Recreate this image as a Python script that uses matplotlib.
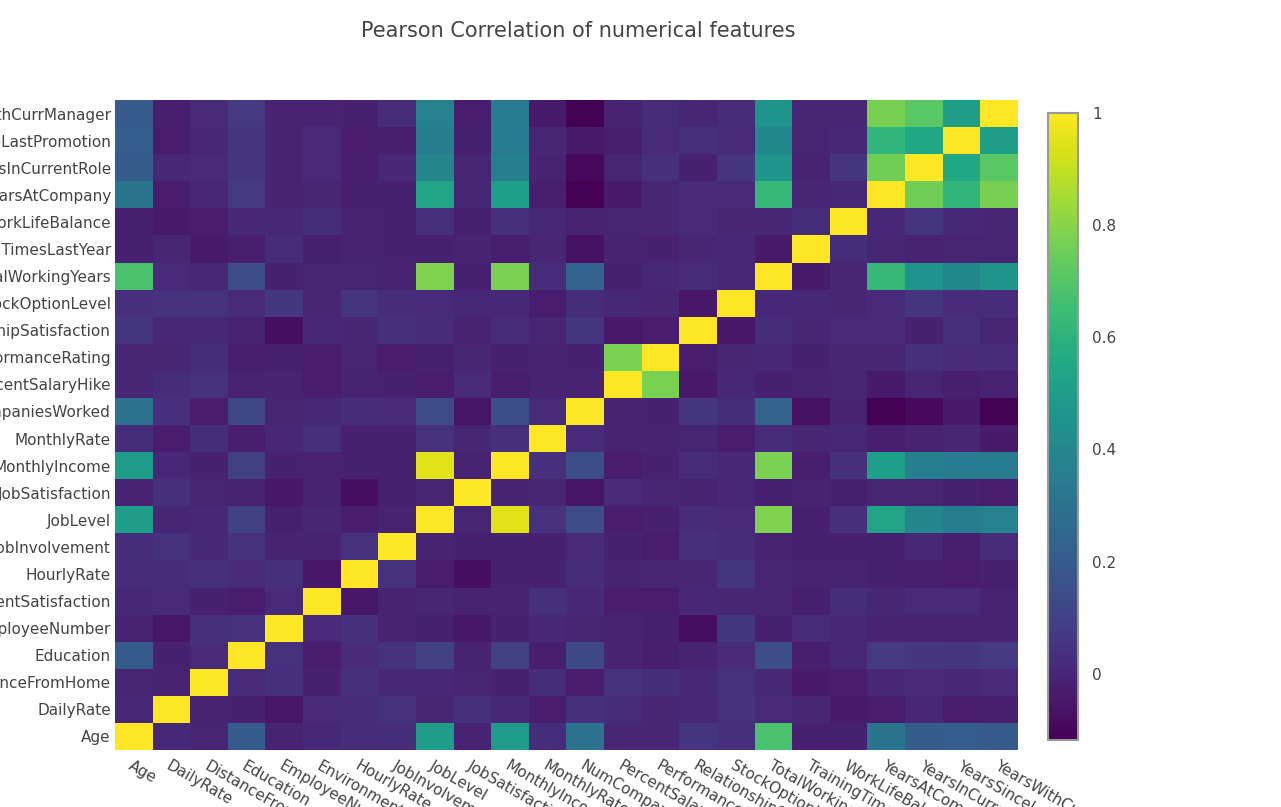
import numpy as np
import matplotlib.pyplot as plt

features = ['Age', 'DailyRate', 'DistanceFromHome', 'Education', 'EmployeeNumber',
            'EnvironmentSatisfaction', 'HourlyRate', 'JobInvolvement', 'JobLevel',
            'JobSatisfaction', 'MonthlyIncome', 'MonthlyRate', 'NumCompaniesWorked',
            'PercentSalaryHike', 'PerformanceRating', 'RelationshipSatisfaction',
            'StockOptionLevel', 'TotalWorkingYears', 'TrainingTimesLastYear',
            'WorkLifeBalance', 'YearsAtCompany', 'YearsInCurrentRole',
            'YearsSinceLastPromotion', 'YearsWithCurrManager']

# upper triangle: correlation of each feature with the ones after it
age = [0.011, -0.002, 0.208, -0.010, 0.010, 0.024, 0.030, 0.510, -0.005, 0.498, 0.028, 0.300,
       0.004, 0.002, 0.054, 0.038, 0.680, -0.020, -0.021, 0.311, 0.213, 0.217, 0.202]
daily_rate = [-0.005, -0.017, -0.051, 0.018, 0.023, 0.046, 0.003, 0.031, 0.008, -0.032, 0.038,
              0.023, 0.000, 0.008, 0.042, 0.015, 0.002, -0.038, -0.034, 0.010, -0.033, -0.026]
distance = [0.021, 0.033, -0.016, 0.031, 0.009, 0.005, -0.003, -0.017, 0.027, -0.029, 0.040,
            0.027, 0.007, 0.045, 0.005, -0.037, -0.027, 0.010, 0.019, 0.010, 0.014]
education = [0.042, -0.027, 0.017, 0.042, 0.102, -0.011, 0.095, -0.026, 0.126, -0.011, -0.025,
             -0.009, 0.018, 0.148, -0.025, 0.010, 0.069, 0.060, 0.054, 0.069]
employee_num = [0.018, 0.035, -0.007, -0.019, -0.046, -0.015, 0.013, -0.001, -0.013, -0.020,
                -0.070, 0.062, -0.014, 0.024, 0.010, -0.011, -0.008, -0.009, -0.009]
env_sat = [-0.050, -0.008, 0.001, -0.007, -0.006, 0.038, 0.013, -0.032, -0.030, 0.008, 0.003,
           -0.003, -0.019, 0.028, 0.002, 0.018, 0.016, -0.005]
hourly_rate = [0.043, -0.028, -0.071, -0.016, -0.015, 0.022, -0.009, -0.002, 0.001, 0.050,
               -0.002, -0.009, -0.005, -0.020, -0.024, -0.027, -0.020]
job_inv = [-0.013, -0.021, -0.015, -0.016, 0.015, -0.017, -0.029, 0.034, 0.022, -0.006, -0.015,
           -0.015, -0.021, 0.009, -0.024, 0.026]
job_level = [-0.002, 0.950, 0.040, 0.143, -0.035, -0.021, 0.022, 0.014, 0.782, -0.018, 0.038,
             0.535, 0.389, 0.354, 0.375]
job_sat = [-0.007, 0.001, -0.056, 0.020, 0.002, -0.012, 0.011, -0.020, -0.006, -0.019, -0.004,
           -0.002, -0.018, -0.028]
monthly_income = [0.035, 0.150, -0.027, -0.017, 0.026, 0.005, 0.773, -0.022, 0.031, 0.514,
                  0.364, 0.345, 0.344]
monthly_rate = [0.018, -0.006, -0.010, -0.004, -0.034, 0.026, 0.001, 0.008, -0.024, -0.013,
                0.002, -0.037]
num_companies = [-0.010, -0.014, 0.053, 0.030, 0.238, -0.066, -0.008, -0.118, -0.091, -0.037,
                 -0.111]
salary_hike = [0.774, -0.040, 0.008, -0.021, -0.005, -0.003, -0.036, -0.002, -0.022, -0.012]
perf_rating = [-0.031, 0.004, 0.007, -0.016, 0.003, 0.003, 0.035, 0.018, 0.023]
rel_sat = [-0.046, 0.024, 0.002, 0.020, 0.019, -0.015, 0.033, -0.001]
stock_option = [0.010, 0.011, 0.004, 0.015, 0.051, 0.014, 0.025]
total_years = [-0.036, 0.001, 0.628, 0.460, 0.405, 0.459]
training = [0.028, 0.004, -0.006, -0.002, -0.004]
work_life = [0.012, 0.050, 0.009, 0.003]
years_company = [0.759, 0.618, 0.769]
years_role = [0.548, 0.714]
years_promo = [0.510]

upper = [age, daily_rate, distance, education, employee_num, env_sat, hourly_rate, job_inv,
         job_level, job_sat, monthly_income, monthly_rate, num_companies, salary_hike,
         perf_rating, rel_sat, stock_option, total_years, training, work_life,
         years_company, years_role, years_promo]

n = len(features)
corr = np.eye(n)
for i, row in enumerate(upper):
    corr[i, i + 1:] = row
    corr[i + 1:, i] = row

txt = '#444444'
plt.rcParams['font.family'] = ['DejaVu Sans']

fig = plt.figure(figsize=(12.81, 8.07), dpi=100)
ax = fig.add_axes([115 / 1281, 1 - 750 / 807, 903 / 1281, 650 / 807])
im = ax.imshow(corr, cmap='viridis', origin='lower', aspect='auto',
               vmin=corr.min(), vmax=1, interpolation='nearest',
               extent=(-0.5, n - 0.5, -0.5, n - 0.5))

ax.set_xticks(np.arange(n))
ax.set_yticks(np.arange(n))
ax.set_yticklabels(features, fontsize=11, color=txt)
ax.set_xticklabels(features, fontsize=11, color=txt, rotation=-30, ha='left',
                   va='top', rotation_mode='anchor')
ax.tick_params(axis='y', length=0, pad=3)
ax.tick_params(axis='x', length=0, pad=6)
for s in ax.spines.values():
    s.set_visible(False)

fig.text(578 / 1281, 1 - 31 / 807, 'Pearson Correlation of numerical features',
         ha='center', va='center', fontsize=15, color=txt)

cax = fig.add_axes([1048 / 1281, 1 - 740 / 807, 30 / 1281, 627 / 807])
cb = fig.colorbar(im, cax=cax, ticks=[0, 0.2, 0.4, 0.6, 0.8, 1])
cb.ax.set_yticklabels(['0', '0.2', '0.4', '0.6', '0.8', '1'])
cb.ax.tick_params(length=0, labelsize=11, labelcolor=txt, pad=10)
cb.outline.set_edgecolor('#999999')
cb.outline.set_linewidth(1.5)

fig.savefig('out.png', dpi=100)
